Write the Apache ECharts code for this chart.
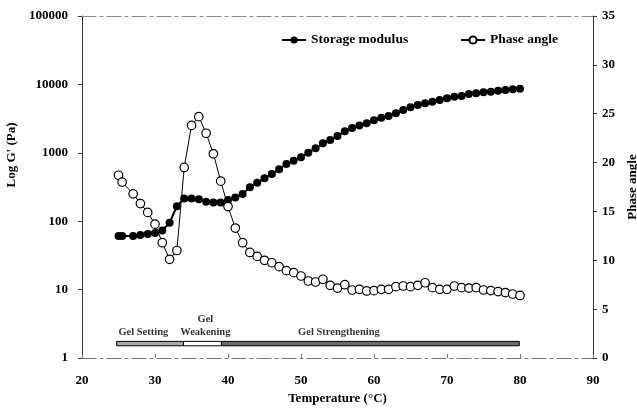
<!DOCTYPE html>
<html>
<head>
<meta charset="utf-8">
<script src="https://cdn.jsdelivr.net/npm/echarts@6/dist/echarts.min.js"></script>
<style>
html,body{margin:0;padding:0;background:#fff;}
#chart{width:637px;height:408px;}
</style>
</head>
<body>
<div id="chart"></div>
<script>
// Temperature (°C)
var temperature = [25, 25.5, 27, 28, 29, 30, 31, 32, 33, 34, 35, 36, 37, 38, 39, 40, 41, 42, 43, 44, 45, 46, 47, 48, 49, 50, 51, 52, 53, 54, 55, 56, 57, 58, 59, 60, 61, 62, 63, 64, 65, 66, 67, 68, 69, 70, 71, 72, 73, 74, 75, 76, 77, 78, 79, 80];
// Storage modulus G' (Pa)
var storageModulus = [61, 61, 61, 63, 65, 67, 73, 95, 166, 215, 215, 210, 193, 187, 187, 204, 223, 250, 313, 366, 424, 490, 574, 686, 767, 860, 1003, 1163, 1377, 1538, 1760, 2062, 2305, 2500, 2700, 3000, 3250, 3450, 3780, 4225, 4626, 5000, 5290, 5590, 5910, 6260, 6610, 6760, 7240, 7410, 7660, 7820, 8090, 8280, 8470, 8650];
// Phase angle (degrees)
var phaseAngle = [18.7, 18.0, 16.8, 15.8, 14.9, 13.7, 11.8, 10.1, 11.0, 19.5, 23.8, 24.7, 23.0, 20.9, 18.1, 15.5, 13.3, 11.8, 10.8, 10.4, 10.0, 9.75, 9.35, 8.94, 8.73, 8.39, 7.88, 7.78, 8.06, 7.44, 7.16, 7.5, 6.96, 7.03, 6.86, 6.89, 7.03, 7.03, 7.3, 7.37, 7.3, 7.44, 7.7, 7.2, 7.03, 7.03, 7.37, 7.2, 7.16, 7.2, 6.96, 6.9, 6.8, 6.7, 6.55, 6.4];
// Gel stages (temperature ranges)
var stageNames = ['Gel Setting', 'Gel\nWeakening', 'Gel Strengthening'];
var stageStart = [24.75, 33.9, 39.1];
var stageEnd = [33.9, 39.1, 79.9];
var stageLabelX = [28.4, 36.9, 55.2];
var stageBar = [1.25, 1.7]; // bar extent on the phase-angle scale
// Axis ticks
var xTicks = [20, 30, 40, 50, 60, 70, 80, 90];
var leftTicks = [1, 10, 100, 1000, 10000, 100000];
var rightTicks = [0, 5, 10, 15, 20, 25, 30, 35];

var FONT = 'Liberation Serif';
var txt = {fontFamily: FONT, fontWeight: 'bold', fontSize: 13, color: '#000'};
var smallTxt = {fontFamily: FONT, fontWeight: 'bold', fontSize: 10.5, color: '#000'};

var stageFills = ['#a8a8a8', '#ffffff', '#6a6a6a'];
var areas = stageNames.map(function (n, i) {
  return [
    {coord: [stageStart[i], stageBar[0]], itemStyle: {color: stageFills[i], borderColor: '#000', borderWidth: 1}},
    {coord: [stageEnd[i], stageBar[1]]}
  ];
});

var chart = echarts.init(document.getElementById('chart'), null, {renderer: 'canvas'});
chart.setOption({
  animation: false,
  backgroundColor: '#fff',
  grid: {left: 82, right: 44, top: 16, bottom: 50, containLabel: false, outerBoundsMode: 'none'},
  legend: [
    {data: ['Storage modulus'], left: 276, top: 28, itemWidth: 24, itemHeight: 9, itemGap: 4, textStyle: Object.assign({}, txt, {fontSize: 13.5}), selectedMode: false},
    {data: ['Phase angle'], left: 455, top: 28, itemWidth: 24, itemHeight: 9, itemGap: 4, textStyle: Object.assign({}, txt, {fontSize: 13.5}), selectedMode: false}
  ],
  xAxis: [{
    type: 'value', min: xTicks[0], max: xTicks[xTicks.length - 1], interval: 10,
    name: 'Temperature (°C)', nameLocation: 'middle', nameGap: 32,
    nameTextStyle: txt,
    axisLine: {show: true, lineStyle: {color: '#777', width: 1, type: [14, 4, 3, 4]}},
    axisTick: {show: true, inside: true, length: 4, lineStyle: {color: '#777'}},
    axisLabel: Object.assign({margin: 16}, txt),
    splitLine: {show: false}
  }, {
    type: 'value', min: xTicks[0], max: xTicks[xTicks.length - 1], position: 'top',
    axisLine: {show: true, lineStyle: {color: '#888', width: 1, type: [14, 4, 3, 4]}},
    axisTick: {show: false}, axisLabel: {show: false}, splitLine: {show: false}
  }],
  yAxis: [{
    type: 'log', logBase: 10, min: leftTicks[0], max: leftTicks[leftTicks.length - 1],
    name: "Log G' (Pa)", nameLocation: 'middle', nameRotate: 90, nameGap: 57,
    nameTextStyle: Object.assign({padding: [0, 0, 0, 64]}, txt),
    axisLine: {show: true, lineStyle: {color: '#333', width: 1}},
    axisTick: {show: true, length: 4, lineStyle: {color: '#333'}},
    axisLabel: Object.assign({margin: 14, formatter: function (v) { return String(Math.round(v)); }}, txt),
    splitLine: {show: false}
  }, {
    type: 'value', min: rightTicks[0], max: rightTicks[rightTicks.length - 1], interval: 5,
    position: 'right',
    name: 'Phase angle', nameLocation: 'middle', nameRotate: 90, nameGap: 32,
    nameTextStyle: txt,
    axisLine: {show: true, lineStyle: {color: '#333', width: 1}},
    axisTick: {show: true, length: 4, lineStyle: {color: '#333'}},
    axisLabel: Object.assign({margin: 9}, txt),
    splitLine: {show: false}
  }],
  series: [{
    name: 'Storage modulus', type: 'line', yAxisIndex: 0,
    data: temperature.map(function (t, i) { return [t, storageModulus[i]]; }),
    symbol: 'circle', symbolSize: 8,
    itemStyle: {color: '#000'},
    lineStyle: {color: '#000', width: 2},
    z: 2
  }, {
    name: 'Phase angle', type: 'line', yAxisIndex: 1,
    data: temperature.map(function (t, i) { return [t, phaseAngle[i]]; }),
    symbol: 'circle', symbolSize: 8.5, showAllSymbol: true,
    itemStyle: {color: '#fff', borderColor: '#000', borderWidth: 1.2},
    lineStyle: {color: '#000', width: 1},
    markArea: {silent: true, data: areas, label: {show: false}},
    z: 3
  }, {
    name: 'stages', type: 'scatter', yAxisIndex: 1, silent: true,
    symbolSize: 0,
    data: stageNames.map(function (n, i) { return {name: n, value: [stageLabelX[i], stageBar[1]]}; }),
    label: Object.assign({show: true, position: 'top', distance: 3, lineHeight: 13, formatter: function (p) { return p.name; }}, smallTxt),
    z: 4
  }]
});
</script>
</body>
</html>
